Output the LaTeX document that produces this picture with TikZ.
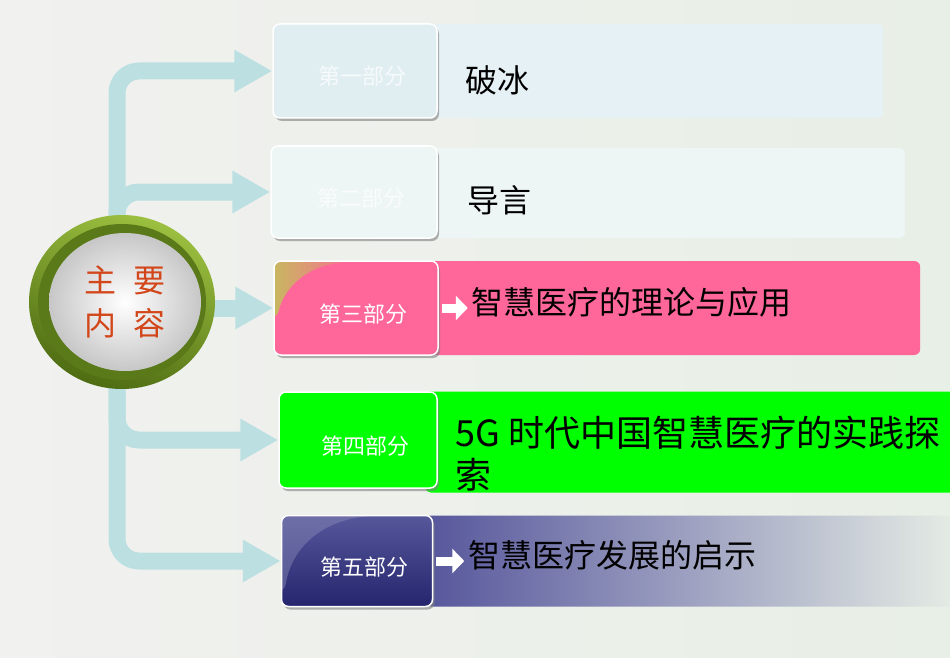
\documentclass[tikz,border=0pt]{standalone}
\usepackage{fontspec}
\setmainfont{Noto Sans CJK SC}
\usetikzlibrary{positioning,arrows.meta,shadows,shapes.geometric}

\definecolor{bgleft}{HTML}{F1F1EF}
\definecolor{bgright}{HTML}{E8EFE6}
\definecolor{linkblue}{HTML}{BCE0E2}
\definecolor{iceblue}{HTML}{E0EEF2}
\definecolor{icepale}{HTML}{EDF6F5}
\definecolor{rosepink}{HTML}{FF6699}
\definecolor{glossgold}{HTML}{C4BC5C}
\definecolor{limegreen}{HTML}{00FF00}
\definecolor{navy}{HTML}{2C2C82}
\definecolor{navylight}{HTML}{56569C}
\definecolor{ringlight}{HTML}{9CC040}
\definecolor{ringdark}{HTML}{4E6C12}
\definecolor{hubtext}{HTML}{D2461A}

\begin{document}
\begin{tikzpicture}[x=1pt,y=-1pt,
    secbox/.style={draw=white,line width=1.5pt,rounded corners=7pt,
      minimum width=164pt,minimum height=94pt,text=white,inner sep=0pt,
      text height=30pt,text depth=2pt,
      execute at begin node={\hspace*{14pt}},
      font=\fontsize{22}{24}\selectfont,
      drop shadow={shadow xshift=2pt,shadow yshift=-3pt,fill=black!50,opacity=.6}},
    topicbox/.style={anchor=west,minimum height=94pt,rounded corners=6pt,inner sep=0pt},
    topic/.style={font=\fontsize{32}{42}\selectfont,align=left,inner sep=0pt},
    link/.style={draw=linkblue,line width=17pt,rounded corners=22pt,
      -{Triangle[width=40pt,length=38pt]}},
    pointer/.style={draw=white,line width=9pt,shorten <=3pt,shorten >=4pt,
      -{Triangle[width=24pt,length=12pt]}}
  ]
  \clip (0,0) rectangle (950,658);
  \fill[left color=bgleft,right color=bgright] (0,0) rectangle (950,658);

  % wide bars behind the part boxes
  \node[topicbox,minimum width=458pt,fill=iceblue!80!white] (c1) at (425,71) {};
  \node[topicbox,minimum width=480pt,minimum height=90pt,fill=icepale] (c2) at (425,193) {};
  \node[topicbox,minimum width=495pt,fill=rosepink] (c3) at (425,308) {};
  \node[topicbox,minimum width=540pt,minimum height=101pt,fill=limegreen] (c4) at (425,442) {};
  \node[topicbox,minimum width=540pt,minimum height=91pt,
    left color=navylight,right color=bgright] (c5) at (425,561) {};

  % part boxes
  \node[secbox,fill=iceblue,text=white!70!iceblue] (sec1) at (355,71) {第一部分};
  \node[secbox,fill=icepale,minimum width=166pt,minimum height=92pt,
    text=white!70!icepale] (sec2) at (354,192) {第二部分};
  \node[secbox,fill=rosepink,
    path picture={
      \coordinate (g3) at (path picture bounding box.north west);
      \fill[left color=glossgold,right color=rosepink!85!glossgold]
        ([shift={(-6,-6)}]g3) -- ([shift={(74,1)}]g3)
        .. controls ([shift={(32,5)}]g3) and ([shift={(10,27)}]g3) .. ([shift={(3,57)}]g3)
        -- ([shift={(-6,57)}]g3) -- cycle;}] (sec3) at (356,308) {第三部分};
  \node[secbox,fill=limegreen,minimum width=158pt,minimum height=96pt] (sec4) at (358,440) {第四部分};
  \node[secbox,top color=navy!80!white,bottom color=navy!85!black,
    minimum width=151pt,minimum height=91pt,
    path picture={
      \coordinate (g5) at (path picture bounding box.north west);
      \fill[navy!55!white,opacity=.45]
        ([shift={(-6,-6)}]g5) -- ([shift={(93,0)}]g5)
        .. controls ([shift={(40,5)}]g5) and ([shift={(10,32)}]g5) .. ([shift={(3,76)}]g5)
        -- ([shift={(-6,76)}]g5) -- cycle;}] (sec5) at (357,561) {第五部分};

  % connectors
  \coordinate (hub) at (117,304);
  \draw[link] (hub) |- (sec1.west);
  \draw[link] (hub) |- (sec2.west);
  \draw[link] (hub |- sec3.west) -- (sec3.west);
  \draw[link] (hub) |- (sec4.west);
  \draw[link] (hub) |- (sec5.west);

  % the round badge
  \node[ellipse,minimum width=186pt,minimum height=174pt,inner sep=0pt,
    top color=ringlight,bottom color=ringdark,shading angle=-20] (ring) at (122,302) {};
  \node[ellipse,minimum width=168pt,minimum height=156pt,inner sep=0pt,
    fill=ringdark!85!ringlight] (band) at (ring.center) {};
  \node[ellipse,minimum width=152pt,minimum height=138pt,inner sep=0pt,
    inner color=white,outer color=black!22,
    text=hubtext,align=center,font=\fontsize{32}{43}\selectfont]
    (core) at ([xshift=3pt]ring.center) {主\hspace{18pt}要\\内\hspace{18pt}容};

  % topics
  \node[topic,right=28pt of sec1,yshift=-9pt] (t1) {破冰};
  \node[topic,right=30pt of sec2,yshift=-8pt] (t2) {导言};
  \node[topic,right=33pt of sec3,yshift=6pt] (t3) {智慧医疗的理论与应用};
  \node[topic,right=18pt of sec4,yshift=-14pt,font=\fontsize{36}{42}\selectfont] (t4)
    {5G 时代中国智慧医疗的实践探\\索};
  \node[topic,right=35pt of sec5,yshift=6pt] (t5) {智慧医疗发展的启示};
  \draw[pointer] (sec3.east) -- (sec3.east -| t3.west);
  \draw[pointer] (sec5.east) -- (sec5.east -| t5.west);
\end{tikzpicture}
\end{document}
